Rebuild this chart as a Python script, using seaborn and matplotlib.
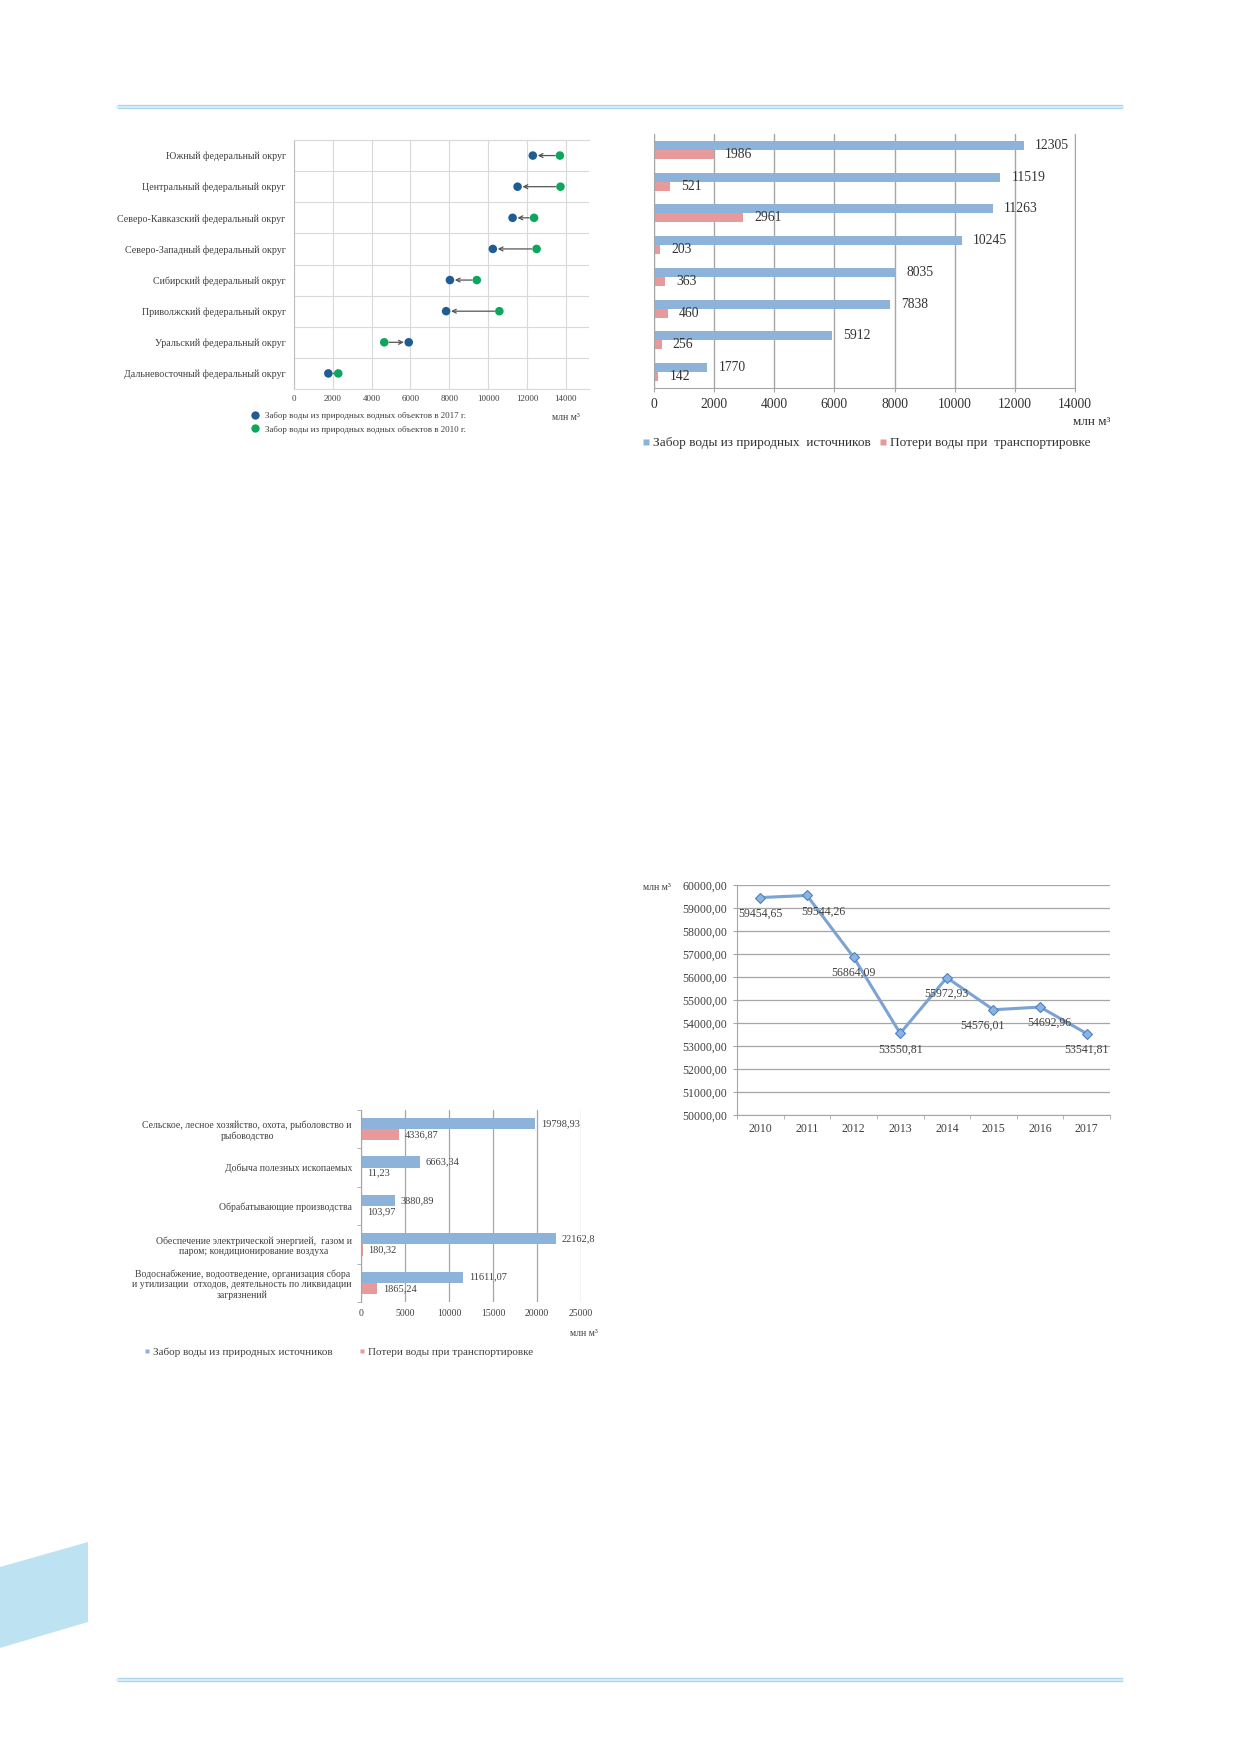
import numpy as np
import pandas as pd
import matplotlib
matplotlib.use("Agg")
import matplotlib.pyplot as plt
import matplotlib.ticker as mticker
from matplotlib.lines import Line2D
from matplotlib.patches import Polygon
import seaborn as sns

# данные: федеральные округа
districts = ["Южный федеральный округ", "Центральный федеральный округ",
             "Северо-Кавказский федеральный округ", "Северо-Западный федеральный округ",
             "Сибирский федеральный округ", "Приволжский федеральный округ",
             "Уральский федеральный округ", "Дальневосточный федеральный округ"]
intake_2017 = [12305, 11519, 11263, 10245, 8035, 7838, 5912, 1770]
intake_2010 = [13700, 13730, 12370, 12500, 9420, 10580, 4650, 2280]
losses_district = [1986, 521, 2961, 203, 363, 460, 256, 142]
dumbbell_labels = ["Забор воды из природных водных объектов в 2017 г.",
                   "Забор воды из природных водных объектов в 2010 г."]
series_top = ["Забор воды из природных  источников", "Потери воды при  транспортировке"]

# данные: забор воды по годам
years = [2010, 2011, 2012, 2013, 2014, 2015, 2016, 2017]
total_intake = [59454.65, 59544.26, 56864.09, 53550.81, 55972.93, 54576.01, 54692.96, 53541.81]

# данные: виды деятельности
sectors = ["Сельское, лесное хозяйство, охота, рыболовство и\nрыбоводство",
           "Добыча полезных ископаемых",
           "Обрабатывающие производства",
           "Обеспечение электрической энергией,  газом и\nпаром; кондиционирование воздуха",
           "Водоснабжение, водоотведение, организация сбора\nи утилизации  отходов, деятельность по ликвидации\nзагрязнений"]
sector_intake = [19798.93, 6663.34, 3880.89, 22162.8, 11611.07]
sector_losses = [4336.87, 11.23, 103.97, 180.32, 1865.24]
series_bottom = ["Забор воды из природных источников", "Потери воды при транспортировке"]

sns.set_style("white")
plt.rcParams['font.family'] = ['Liberation Serif', 'DejaVu Serif']
plt.rcParams['text.color'] = '#333333'
plt.rcParams['xtick.color'] = '#333333'
plt.rcParams['ytick.color'] = '#333333'

W, H = 1239, 1752
fig = plt.figure(figsize=(W / 100, H / 100), dpi=100)


def box(x0, y0, x1, y1):
    return [x0 / W, 1 - y1 / H, (x1 - x0) / W, (y1 - y0) / H]


def fx(x):
    return x / W


def fy(y):
    return 1 - y / H


def comma(v):
    return f"{v}".replace('.', ',')


dot_blue = '#1f5c91'
dot_green = '#0ca65c'
bar_blue = '#8db3da'
bar_red = '#e8999a'
grid_light = '#d9d9d9'
grid_dark = '#a6a6a6'

# оформление страницы
for yy in (106.5, 1679.5):
    fig.add_artist(Line2D([fx(118), fx(1122)], [fy(yy), fy(yy)], color='#dcf0fa', lw=3))
    for d in (-1.5, 1.5):
        fig.add_artist(Line2D([fx(118), fx(1122)], [fy(yy + d), fy(yy + d)], color='#a8d6ee', lw=0.9))
fig.add_artist(Polygon([(0, fy(1567)), (fx(88), fy(1542)), (fx(88), fy(1622)), (0, fy(1648))],
                       closed=True, facecolor='#bde3f3', edgecolor='none', transform=fig.transFigure))

# 1. гантели по округам
ax1 = fig.add_axes(box(294, 140, 589, 389))
ypos = np.arange(len(districts))
for i in ypos:
    ax1.annotate("", xy=(intake_2017[i], i), xytext=(intake_2010[i], i),
                 arrowprops=dict(arrowstyle="->", color="#555555", lw=0.9,
                                 shrinkA=3.5, shrinkB=3.5, mutation_scale=7), zorder=2)
sns.scatterplot(x=intake_2010, y=ypos, color=dot_green, s=38, edgecolor='none', zorder=3, ax=ax1)
sns.scatterplot(x=intake_2017, y=ypos, color=dot_blue, s=38, edgecolor='none', zorder=3, ax=ax1)
ax1.set_xlim(0, 15200)
ax1.set_ylim(7.5, -0.5)
ax1.set_xticks(np.arange(0, 14001, 2000))
ax1.set_yticks(ypos, labels=districts)
ax1.yaxis.set_minor_locator(mticker.FixedLocator(np.arange(-0.5, 8, 1)))
ax1.grid(axis='x', color=grid_light, lw=0.8)
ax1.grid(axis='y', which='minor', color=grid_light, lw=0.8)
ax1.tick_params(axis='x', length=0, labelsize=6.5, pad=4, colors='#404040')
ax1.tick_params(axis='y', which='major', length=0, labelsize=7.2, pad=6, colors='#404040')
ax1.tick_params(axis='y', which='minor', length=2, color=grid_light)
for s in ['left', 'top', 'bottom']:
    ax1.spines[s].set_color(grid_light)
ax1.spines['left'].set_color('#bfbfbf')
ax1.spines['right'].set_visible(False)
h1 = [Line2D([], [], ls='none', marker='o', ms=6, mfc=c, mec='none') for c in (dot_blue, dot_green)]
fig.legend(h1, dumbbell_labels, loc='upper left', bbox_to_anchor=(fx(250), fy(412)),
           frameon=False, fontsize=6.5, handlelength=1.0, handletextpad=0.7,
           labelspacing=0.55, borderpad=0, borderaxespad=0, labelcolor='#404040')
fig.text(fx(580), fy(418), "млн м³", ha='right', va='center', fontsize=7, color='#404040')

# 2. забор и потери по округам
df2 = pd.DataFrame({'district': districts * 2,
                    'value': intake_2017 + losses_district,
                    'series': [series_top[0]] * len(districts) + [series_top[1]] * len(districts)})
ax2 = fig.add_axes(box(654, 134, 1075, 388))
sns.barplot(data=df2, x='value', y='district', hue='series', orient='h',
            palette=[bar_blue, bar_red], saturation=1, width=0.56, linewidth=0,
            errorbar=None, legend=False, ax=ax2)
for c in ax2.containers:
    ax2.bar_label(c, fmt='%g', padding=8, fontsize=9.8)
ax2.set_axisbelow(True)
ax2.set_xlim(0, 14000)
ax2.set_xticks(np.arange(0, 14001, 2000))
ax2.set_yticks([])
ax2.set_xlabel('')
ax2.set_ylabel('')
ax2.grid(axis='x', color=grid_dark, lw=1)
ax2.tick_params(axis='x', length=3, color=grid_dark, labelsize=9.8, pad=4, bottom=True)
ax2.spines['left'].set_color(grid_dark)
ax2.spines['bottom'].set_color(grid_dark)
ax2.spines['top'].set_visible(False)
ax2.spines['right'].set_color(grid_dark)
h2 = [Line2D([], [], ls='none', marker='s', ms=5, mfc=c, mec='none') for c in (bar_blue, bar_red)]
fig.legend(h2, series_top, loc='center left', bbox_to_anchor=(fx(642), fy(443)), ncol=2,
           frameon=False, fontsize=9.6, handlelength=0.6, handletextpad=0.2,
           columnspacing=0.65, borderpad=0, borderaxespad=0)
fig.text(fx(1110), fy(422), "млн м³", ha='right', va='center', fontsize=9.5)

# 3. динамика забора воды
ax3 = fig.add_axes(box(737, 885, 1110, 1115))
sns.lineplot(x=years, y=total_intake, color='#7ba3d3', lw=2.2, marker='D', markersize=5,
             markerfacecolor='#8cb4e2', markeredgecolor='#4f81bd', markeredgewidth=0.8, ax=ax3)
ax3.set_xlim(years[0] - 0.5, years[-1] + 0.5)
ax3.set_ylim(50000, 60000)
ax3.set_yticks(np.arange(50000, 60001, 1000))
ax3.yaxis.set_major_formatter(mticker.FuncFormatter(lambda v, p: f"{v:.2f}".replace('.', ',')))
ax3.set_xticks(years)
ax3.xaxis.set_minor_locator(mticker.FixedLocator(np.arange(years[0] - 0.5, years[-1] + 1, 1)))
ax3.grid(axis='y', color=grid_dark, lw=0.9)
ax3.tick_params(axis='x', which='major', length=0, labelsize=8.5, pad=6, colors='#404040')
ax3.tick_params(axis='x', which='minor', length=3, color=grid_dark, bottom=True)
ax3.tick_params(axis='y', length=3, color=grid_dark, labelsize=8.5, pad=4, colors='#404040', left=True)
ax3.spines['left'].set_color(grid_dark)
ax3.spines['bottom'].set_color(grid_dark)
ax3.spines['top'].set_visible(False)
ax3.spines['right'].set_visible(False)
label_dx = [0, 12, 0, 0, 0, -8, 7, 0]
for x, y, dx in zip(years, total_intake, label_dx):
    ax3.annotate(f"{y:.2f}".replace('.', ','), (x, y), xytext=(dx, -11.5), textcoords='offset points',
                 ha='center', va='center', fontsize=8.5, color='#404040')
fig.text(fx(643), fy(887), "млн м³", ha='left', va='center', fontsize=7, color='#404040')

# 4. забор и потери по видам деятельности
df4 = pd.DataFrame({'sector': sectors * 2,
                    'value': sector_intake + sector_losses,
                    'series': [series_bottom[0]] * len(sectors) + [series_bottom[1]] * len(sectors)})
ax4 = fig.add_axes(box(361, 1110, 581, 1302))
sns.barplot(data=df4, x='value', y='sector', hue='series', orient='h',
            palette=[bar_blue, bar_red], saturation=1, width=0.58, linewidth=0,
            errorbar=None, legend=False, ax=ax4)
for c, vals in zip(ax4.containers, [sector_intake, sector_losses]):
    ax4.bar_label(c, labels=[comma(v) for v in vals], padding=4, fontsize=7.5, color='#404040')
ax4.set_axisbelow(True)
ax4.set_xlim(0, 25000)
ax4.set_xticks(np.arange(0, 25001, 5000))
ax4.set_yticks(range(len(sectors)), labels=sectors)
for t in ax4.get_yticklabels():
    t.set_multialignment('center')
ax4.yaxis.set_minor_locator(mticker.FixedLocator(np.arange(-0.5, len(sectors), 1)))
ax4.set_xlabel('')
ax4.set_ylabel('')
ax4.grid(axis='x', color=grid_dark, lw=0.9)
ax4.tick_params(axis='x', length=0, labelsize=7, pad=5, colors='#404040')
ax4.tick_params(axis='y', which='major', length=0, labelsize=7, pad=6.5, colors='#404040')
ax4.tick_params(axis='y', which='minor', length=3, color=grid_dark, left=True)
ax4.spines['left'].set_color(grid_dark)
for s in ['top', 'right', 'bottom']:
    ax4.spines[s].set_visible(False)
h4 = [Line2D([], [], ls='none', marker='s', ms=3.5, mfc=c, mec='none') for c in (bar_blue, bar_red)]
fig.legend(h4, series_bottom, loc='center left', bbox_to_anchor=(fx(144), fy(1352)), ncol=2,
           frameon=False, fontsize=8, handlelength=0.5, handletextpad=0.3,
           columnspacing=2.4, borderpad=0, borderaxespad=0, labelcolor='#404040')
fig.text(fx(598), fy(1333), "млн м³", ha='right', va='center', fontsize=7, color='#404040')

fig.savefig('out.png', dpi=100)
